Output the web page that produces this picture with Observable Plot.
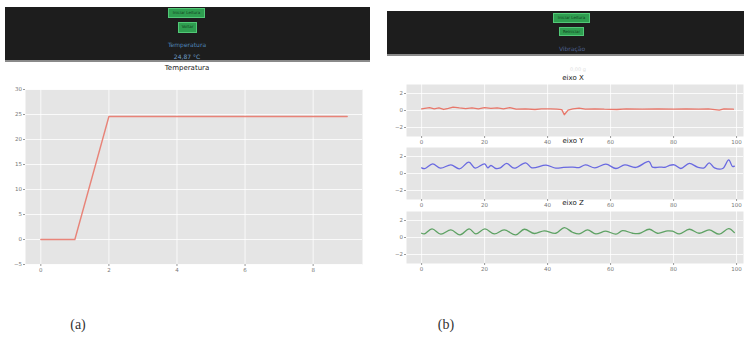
<!DOCTYPE html>
<html>
<head>
<meta charset="utf-8">
<script src="https://cdn.jsdelivr.net/npm/d3@7"></script>
<script src="https://cdn.jsdelivr.net/npm/@observablehq/plot@0.6"></script>
<style>
  html, body { margin: 0; padding: 0; background: #fff; }
  #root { position: relative; width: 746px; height: 343px; overflow: hidden; font-family: "DejaVu Sans", sans-serif; }
  .hdr { position: absolute; background: #1d1d1d; border-bottom: 2px solid #8a8a8a; }
  .btn { position: absolute; background: #2f9e50; border: 1px solid #52c877; color: #0f3d1e; font-size: 4px; line-height: 8px; text-align: center; box-sizing: border-box; white-space: nowrap; overflow: hidden; }
  .lbl { position: absolute; transform: translate(-50%, -50%); white-space: nowrap; }
  .ttl { position: absolute; transform: translate(-50%, -50%); white-space: nowrap; font-size: 7px; color: #1a1a1a; z-index: 5; }
  .cap { position: absolute; transform: translate(-50%, -50%); font-family: "Liberation Serif", serif; font-size: 14px; color: #333; }
  svg { position: absolute; }
</style>
</head>
<body>
<div id="root">
  <div class="hdr" style="left:5px; top:7px; width:365px; height:53px;"></div>
  <div class="btn" style="left:168px; top:8px; width:37px; height:10px;">Iniciar Leitura</div>
  <div class="btn" style="left:178px; top:22px; width:19px; height:11px;">Voltar</div>
  <div class="lbl" style="left:187px; top:44px; font-size:6px; color:#4f86b8;">Temperatura</div>
  <div class="lbl" style="left:187px; top:56px; font-size:6px; color:#6f9fcc;">24,87 °C</div>

  <div class="hdr" style="left:387px; top:11px; width:357px; height:43px;"></div>
  <div class="btn" style="left:553px; top:13px; width:37px; height:10px;">Iniciar Leitura</div>
  <div class="btn" style="left:559px; top:27px; width:25px; height:9px;">Reiniciar</div>
  <div class="lbl" style="left:572px; top:48px; font-size:6px; color:#4c5f8f;">Vibração</div>
  <div class="lbl" style="left:578px; top:69px; font-size:5px; color:#e0e0e0;">0,00 g</div>

  <div class="ttl" style="left:187px; top:68px;">Temperatura</div>
  <div class="ttl" style="left:573px; top:78px;">eixo X</div>
  <div class="ttl" style="left:573px; top:141px;">eixo Y</div>
  <div class="ttl" style="left:573px; top:203px;">eixo Z</div>

  <div class="cap" style="left:78px; top:325px;">(a)</div>
  <div class="cap" style="left:446px; top:325px;">(b)</div>
</div>
<script>
// ---- Data: (a) Temperatura ----
const tempTime = [0, 1, 2, 3, 4, 5, 6, 7, 8, 9];
const tempValue = [0, 0, 24.6, 24.6, 24.6, 24.6, 24.6, 24.6, 24.6, 24.6];
const tempTicksX = [0, 2, 4, 6, 8];
const tempTicksY = [-5, 0, 5, 10, 15, 20, 25, 30];

// ---- Data: (b) Vibração ----
const vibTicksX = [0, 20, 40, 60, 80, 100];
const vibTicksY = [-2, 0, 2];
const eixoXt = [0, 2.5, 4, 5.5, 7, 8.5, 10, 12, 14, 16, 18, 20, 22, 24, 26, 28, 30, 33, 36, 38, 41, 43, 44.5, 45.3, 46.5, 48, 50, 52, 55, 58, 62, 65, 70, 75, 80, 84, 88, 91, 94.5, 96, 99];
const eixoXv = [0.2, 0.35, 0.2, 0.3, 0.12, 0.25, 0.4, 0.3, 0.22, 0.3, 0.2, 0.35, 0.25, 0.3, 0.18, 0.35, 0.15, 0.18, 0.12, 0.2, 0.18, 0.15, 0.1, -0.5, 0.05, 0.2, 0.28, 0.15, 0.2, 0.15, 0.12, 0.2, 0.15, 0.18, 0.15, 0.2, 0.15, 0.2, 0.05, 0.2, 0.15];
const eixoYt = [0, 1, 3.5, 6, 9.3, 12, 15, 17, 20, 21, 22, 23.6, 25, 27, 29.4, 33, 35, 39.5, 42.6, 45, 48, 50, 52, 55, 58.5, 61.7, 64.5, 68, 72.2, 73.3, 75.5, 77.5, 78.6, 80.2, 82.3, 85, 87.6, 89.7, 91.3, 93, 95.6, 97.5, 98.7, 99.3];
const eixoYv = [0.67, 0.58, 1.14, 0.63, 1.02, 0.55, 1.33, 0.63, 1.14, 0.67, 0.94, 0.59, 0.67, 1.18, 0.63, 1.26, 0.67, 0.98, 0.63, 0.72, 0.75, 0.7, 1.02, 0.67, 1.1, 0.59, 1.02, 0.71, 1.41, 0.75, 0.75, 0.75, 0.94, 1.02, 0.59, 1.18, 0.75, 0.67, 1.26, 0.67, 0.59, 1.61, 0.82, 0.86];
const eixoZt = [0, 0.85, 3.3, 6.1, 9.3, 12.2, 15.1, 17.2, 20.1, 23.1, 26.2, 29.9, 32.6, 35.8, 38.9, 42.6, 45.3, 47.9, 50, 52.7, 55.3, 58.5, 61.7, 63.8, 67, 69.1, 72.3, 74.9, 78.1, 79.7, 81.8, 85, 88.1, 91.3, 94.5, 97.5, 99.3];
const eixoZv = [0.5, 0.42, 1.01, 0.39, 0.89, 0.31, 1.01, 0.42, 1.01, 0.42, 0.89, 0.31, 0.97, 0.47, 0.78, 0.5, 1.16, 0.62, 0.42, 0.89, 0.42, 0.74, 0.39, 0.81, 0.5, 0.47, 0.97, 0.5, 0.78, 0.74, 0.42, 0.97, 0.5, 0.89, 0.39, 1.05, 0.58];

const root = document.getElementById("root");
const tickStyle = {background: "transparent", fontSize: "5.5px", color: "#777", fontFamily: "DejaVu Sans, sans-serif", overflow: "visible"};

function ggPlot({width, height, mt, mb, ml, mr, xDomain, yDomain, xTicks, yTicks, xs, ys, stroke, curve, sw}) {
  const data = xs.map((x, i) => ({x, y: ys[i]}));
  return Plot.plot({
    width, height,
    marginTop: mt, marginBottom: mb, marginLeft: ml, marginRight: mr,
    style: tickStyle,
    x: {domain: xDomain, label: null},
    y: {domain: yDomain, label: null},
    marks: [
      Plot.frame({fill: "#e5e5e5", stroke: null}),
      Plot.gridX(xTicks, {stroke: "#fff", strokeOpacity: 1, strokeWidth: 0.8}),
      Plot.gridY(yTicks, {stroke: "#fff", strokeOpacity: 1, strokeWidth: 0.8}),
      Plot.line(data, {x: "x", y: "y", stroke, strokeWidth: sw, curve, strokeOpacity: 0.9}),
      Plot.axisX(xTicks, {tickSize: 2, tickPadding: 2, stroke: "#999", fill: "#777", label: null}),
      Plot.axisY(yTicks, {tickSize: 2, tickPadding: 1.5, stroke: "#999", fill: "#777", label: null})
    ]
  });
}

// (a)
const a = ggPlot({
  width: 370, height: 220, mt: 27, mb: 18, ml: 25, mr: 8,
  xDomain: [-0.45, 9.45], yDomain: [-5, 30],
  xTicks: tempTicksX, yTicks: tempTicksY,
  xs: tempTime, ys: tempValue, stroke: "#e8786c", curve: "linear", sw: 1.4
});
a.style.left = "0px"; a.style.top = "62px";
root.appendChild(a);

// (b)
const vib = [
  {t: eixoXt, v: eixoXv, top: 80, stroke: "#e86a5c", curve: "linear"},
  {t: eixoYt, v: eixoYv, top: 143, stroke: "#5b5be0", curve: "catmull-rom"},
  {t: eixoZt, v: eixoZv, top: 207, stroke: "#4f9a55", curve: "catmull-rom"}
];
for (const s of vib) {
  const p = ggPlot({
    width: 361, height: 66, mt: 4, mb: 10, ml: 21, mr: 3,
    xDomain: [-4.8, 102.2], yDomain: [-3.06, 3.06],
    xTicks: vibTicksX, yTicks: vibTicksY,
    xs: s.t, ys: s.v, stroke: s.stroke, curve: s.curve, sw: 1.3
  });
  p.style.left = "385px"; p.style.top = s.top + "px";
  root.appendChild(p);
}
</script>
</body>
</html>
